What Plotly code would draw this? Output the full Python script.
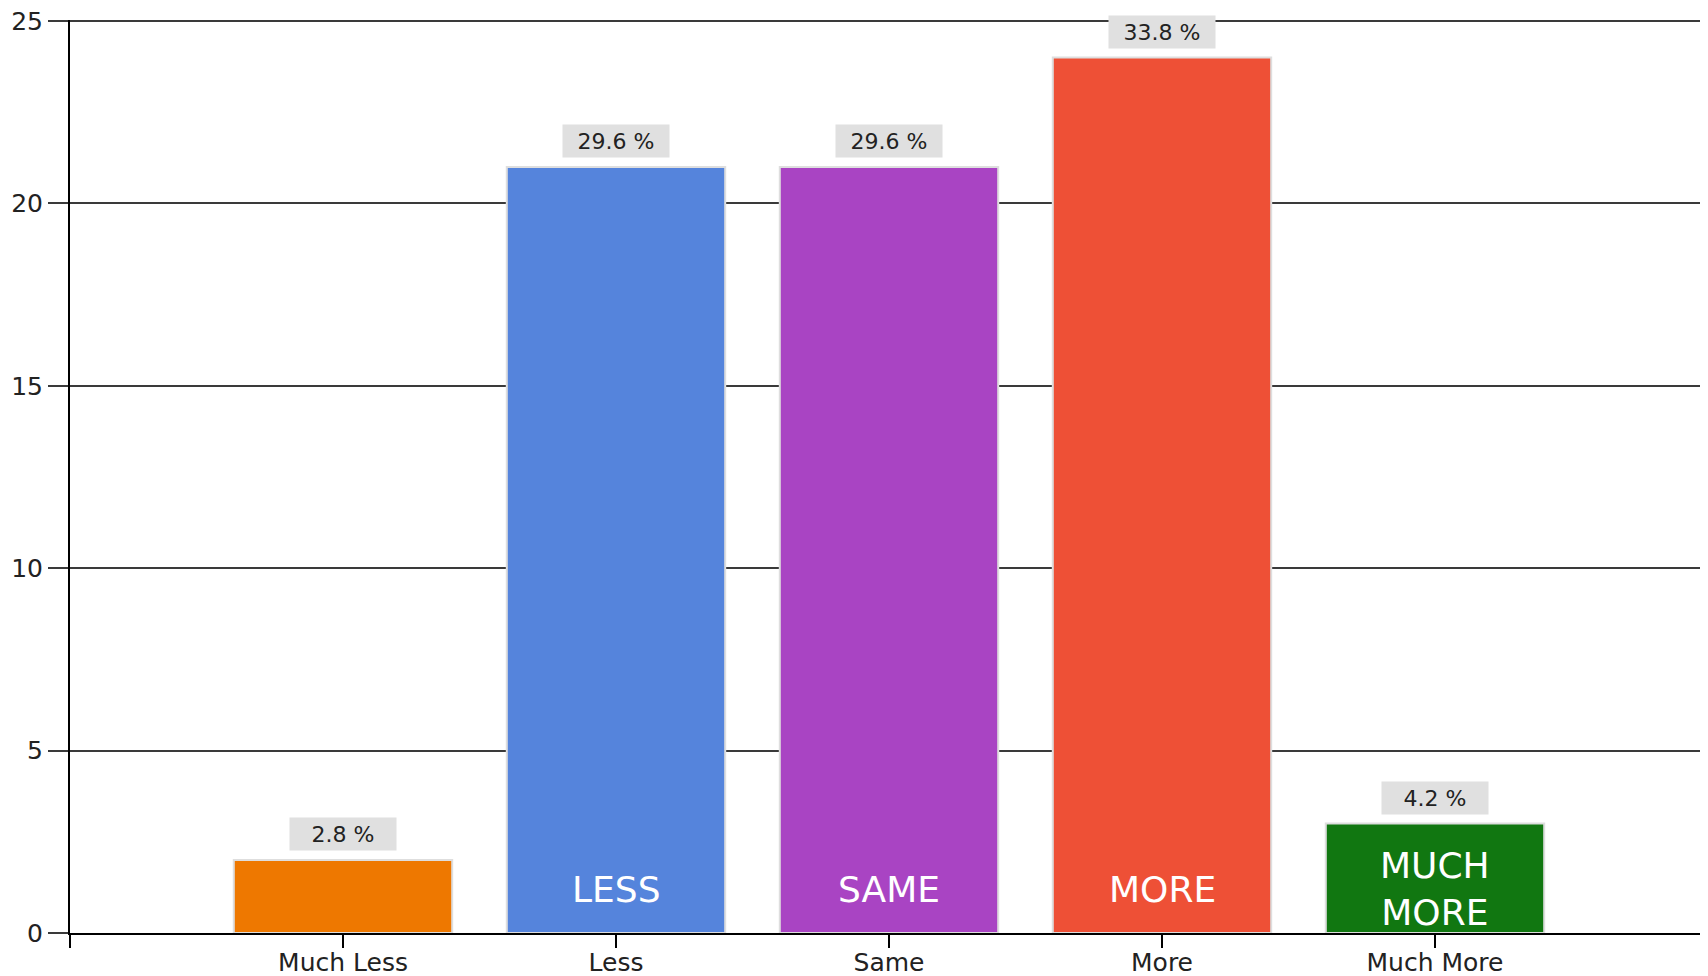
import plotly.graph_objects as go

categories = ["Much Less", "Less", "Same", "More", "Much More"]
counts = [2, 21, 21, 24, 3]
inner_labels = ["", "LESS", "SAME", "MORE", "MUCH<br>MORE"]
bar_colors = ["#ee7800", "#5584dc", "#a944c3", "#ee5036", "#117711"]
y_ticks = [0, 5, 10, 15, 20, 25]

FONT = "DejaVu Sans, Verdana, sans-serif"
total = sum(counts)
xs = list(range(len(categories)))

fig = go.Figure()
fig.add_trace(go.Bar(
    x=xs, y=counts, width=0.8,
    marker=dict(color=bar_colors, line=dict(color="#dedede", width=2)),
    hoverinfo="skip", showlegend=False,
))

annotations = []
for i, v in enumerate(counts):
    annotations.append(dict(
        x=i, y=v, xref="x", yref="y", yanchor="bottom", yshift=9,
        text=f"{v / total * 100:.1f} %", showarrow=False,
        bgcolor="#e0e0e0", width=100, height=26, borderpad=3,
        font=dict(family=FONT, size=22, color="#222222"),
    ))
    if inner_labels[i]:
        annotations.append(dict(
            x=i, y=0, xref="x", yref="y", yanchor="middle", yshift=44,
            text=inner_labels[i], showarrow=False,
            font=dict(family=FONT, size=36, color="#ffffff"),
        ))

tickvals = [-1] + xs + [len(categories)]
ticktext = [""] + categories + [""]

# the page body has an 8px default margin; margins compensate for it
fig.update_layout(
    width=1708, height=976,
    margin=dict(l=62, r=8, t=12, b=51),
    paper_bgcolor="white", plot_bgcolor="white",
    font=dict(family=FONT, color="#222222"),
    annotations=annotations,
    bargap=0.2,
    xaxis=dict(
        range=[-1, len(categories)], tickmode="array",
        tickvals=tickvals, ticktext=ticktext,
        showgrid=False, zeroline=False, automargin=False,
        showline=True, linecolor="black", linewidth=2,
        ticks="outside", ticklen=13, tickwidth=2, tickcolor="black",
        ticklabelstandoff=-7, ticklabeloverflow="allow",
        tickfont=dict(family=FONT, size=25, color="#222222"),
        fixedrange=True,
    ),
    yaxis=dict(
        range=[0, 25.03], tickmode="array", tickvals=y_ticks,
        showgrid=True, gridcolor="#3a3a3a", gridwidth=2,
        zeroline=False, automargin=False,
        showline=True, linecolor="black", linewidth=2,
        ticks="outside", ticklen=20, tickwidth=2, tickcolor="#3a3a3a",
        ticklabeloverflow="allow",
        tickfont=dict(family=FONT, size=25, color="#222222"),
        fixedrange=True,
    ),
)

fig.write_html("out.html", config={"displayModeBar": False})
